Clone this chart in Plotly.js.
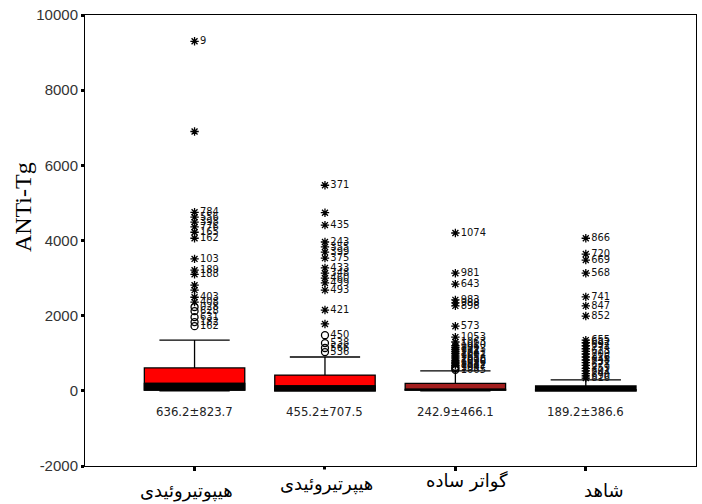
<!DOCTYPE html>
<html>
<head>
<meta charset="utf-8">
<script src="https://cdn.plot.ly/plotly-3.0.1.min.js"></script>
<style>html,body{margin:0;padding:0;background:#fff}#chart{width:702px;height:504px}</style>
</head>
<body>
<div id="chart"></div>
<script>
// ---- data ----
const categories = ['هیپوتیروئیدی', 'هیپرتیروئیدی', 'گواتر ساده', 'شاهد'];
const q1 = [20, 0, 20, 0];
const median = [200, 130, 40, 30];
const q3 = [610, 420, 200, 130];
const lowerFence = [0, 0, 0, 0];
const upperFence = [1350, 900, 530, 290];
const meanSdLabels = ['636.2±823.7', '455.2±707.5', '242.9±466.1', '189.2±386.6'];
const yTickVals = [-2000, 0, 2000, 4000, 6000, 8000, 10000];
const yTickText = ['-2000', '0', '2000', '4000', '6000', '8000', '10000'];

const out1Values = [9300, 6900, 4750, 4620, 4490, 4360, 4220, 4060, 3510, 3210, 3100, 2810, 2680, 2490, 2360, 2230, 2120, 1960, 1830, 1720];
const out1Labels = ['9', '', '784', '556', '398', '776', '165', '162', '103', '189', '188', '', '', '403', '408', '028', '628', '631', '182', '162'];
const out1Symbols = ['*', '*', '*', '*', '*', '*', '*', '*', '*', '*', '*', '*', '*', '*', '*', 'o', 'o', 'o', 'o', 'o'];

const out2Values = [5470, 4740, 4410, 3960, 3830, 3690, 3530, 3270, 3130, 3000, 2870, 2680, 2150, 1780, 1480, 1270, 1140, 1030];
const out2Labels = ['371', '', '435', '243', '355', '399', '375', '433', '348', '460', '499', '493', '421', '', '450', '538', '566', '536'];
const out2Symbols = ['*', '*', '*', '*', '*', '*', '*', '*', '*', '*', '*', '*', '*', '*', 'o', 'o', 'o', 'o'];

const out3Values = [4200, 3130, 2840, 2420, 2340, 2260, 1720, 1430, 1300, 1200, 1150, 1100, 1050, 1000, 950, 900, 850, 800, 760, 720, 680, 640, 600, 560];
const out3Labels = ['1074', '981', '643', '983', '988', '898', '573', '1053', '1063', '1010', '996', '1023', '977', '1041', '1002', '965', '1018', '1090', '1036', '958', '1012', '1047', '999', '1065'];
const out3Symbols = ['*', '*', '*', '*', '*', '*', '*', '*', '*', '*', '*', '*', '*', '*', '*', '*', '*', '*', '*', '*', '*', 'o', 'o', 'o'];

const out4Values = [4060, 3640, 3480, 3130, 2500, 2260, 1990, 1350, 1280, 1200, 1120, 1050, 980, 900, 820, 750, 680, 600, 530, 460, 400, 340];
const out4Labels = ['866', '720', '669', '568', '741', '847', '852', '655', '682', '697', '774', '623', '709', '816', '648', '731', '677', '759', '601', '744', '690', '816'];
const out4Symbols = ['*', '*', '*', '*', '*', '*', '*', '*', '*', '*', '*', '*', '*', '*', '*', '*', '*', '*', '*', '*', '*', '*'];

const outValues = [out1Values, out2Values, out3Values, out4Values];
const outLabels = [out1Labels, out2Labels, out3Labels, out4Labels];
const outSymbols = [out1Symbols, out2Symbols, out3Symbols, out4Symbols];

// ---- styles ----
const fillColors = ['#FF0000', '#FF0000', '#A31E1E', '#000000'];
const boxW = 0.77;
const narrow = '"DejaVu Sans Condensed", "Liberation Sans Narrow", "Liberation Sans", Arial, sans-serif';
const labelShift = [[-8, -12], [2, -3], [12, -2], [18, -12]]; // [xshift, yshift] px per category label
const labelBg = [null, '#ffffff', null, null];

const traces = [];
categories.forEach((c, i) => {
  traces.push({
    type: 'box', x: [i], q1: [q1[i]], median: [median[i]], q3: [q3[i]],
    lowerfence: [lowerFence[i]], upperfence: [upperFence[i]],
    width: boxW, whiskerwidth: 0.7, boxpoints: false,
    fillcolor: fillColors[i], line: {color: '#000', width: 1.3},
    hoverinfo: 'skip', showlegend: false
  });
  // thick black median band
  traces.push({
    type: 'box', x: [i], q1: [q1[i]], median: [median[i]], q3: [median[i]],
    lowerfence: [q1[i]], upperfence: [median[i]],
    width: boxW, whiskerwidth: 0, boxpoints: false,
    fillcolor: '#000', line: {color: '#000', width: 1.3},
    hoverinfo: 'skip', showlegend: false
  });
});
categories.forEach((c, i) => {
  traces.push({
    type: 'scatter', mode: 'markers+text',
    x: outValues[i].map(() => i), y: outValues[i],
    text: outLabels[i], textposition: 'middle right',
    textfont: {family: narrow, size: 11, color: '#111'},
    marker: {
      symbol: outSymbols[i].map(s => s === '*' ? 'asterisk-open' : 'circle-open'),
      size: 7,
      color: '#000', line: {color: '#000', width: 1.3}
    },
    cliponaxis: false, hoverinfo: 'skip', showlegend: false
  });
});

const annotations = [];
categories.forEach((c, i) => {
  annotations.push({
    xref: 'x', yref: 'y', x: i, y: -560, text: meanSdLabels[i], showarrow: false,
    font: {family: narrow, size: 13, color: '#222'}
  });
  const a = {
    xref: 'x', yref: 'paper', x: i, y: 0, yanchor: 'top', text: c, showarrow: false,
    xshift: labelShift[i][0], yshift: labelShift[i][1],
    font: {family: '"DejaVu Sans", "Noto Sans", sans-serif', size: 18, color: '#000'}
  };
  if (labelBg[i]) { a.bgcolor = labelBg[i]; a.borderpad = 3; }
  annotations.push(a);
});
annotations.push({
  xref: 'paper', yref: 'paper', x: -0.1015, y: 0.574, xanchor: 'center', yanchor: 'middle',
  text: 'ANTi-Tg', textangle: -90,
  showarrow: false, font: {family: '"Liberation Serif", "Times New Roman", serif', size: 24, color: '#000'}
});

const layout = {
  width: 702, height: 504,
  margin: {l: 85, r: 6, t: 15, b: 38},
  paper_bgcolor: '#fff', plot_bgcolor: '#fff',
  boxmode: 'overlay',
  xaxis: {
    type: 'linear', range: [-0.84, 3.845], tickvals: categories.map((c, i) => i),
    showticklabels: false, ticks: 'outside', ticklen: 4, tickwidth: 3, tickcolor: '#000',
    showline: true, mirror: true, linecolor: '#000', linewidth: 1,
    showgrid: false, zeroline: false
  },
  yaxis: {
    range: [-2000, 10000], tickvals: yTickVals, ticktext: yTickText,
    ticks: 'outside', ticklen: 3, tickwidth: 3, tickcolor: '#000',
    tickfont: {family: '"Liberation Sans", Arial, sans-serif', size: 15, color: '#333'},
    showline: true, mirror: true, linecolor: '#000', linewidth: 1,
    showgrid: false, zeroline: false
  },
  annotations: annotations
};

Plotly.newPlot('chart', traces, layout, {displayModeBar: false, staticPlot: true});
</script>
</body>
</html>
